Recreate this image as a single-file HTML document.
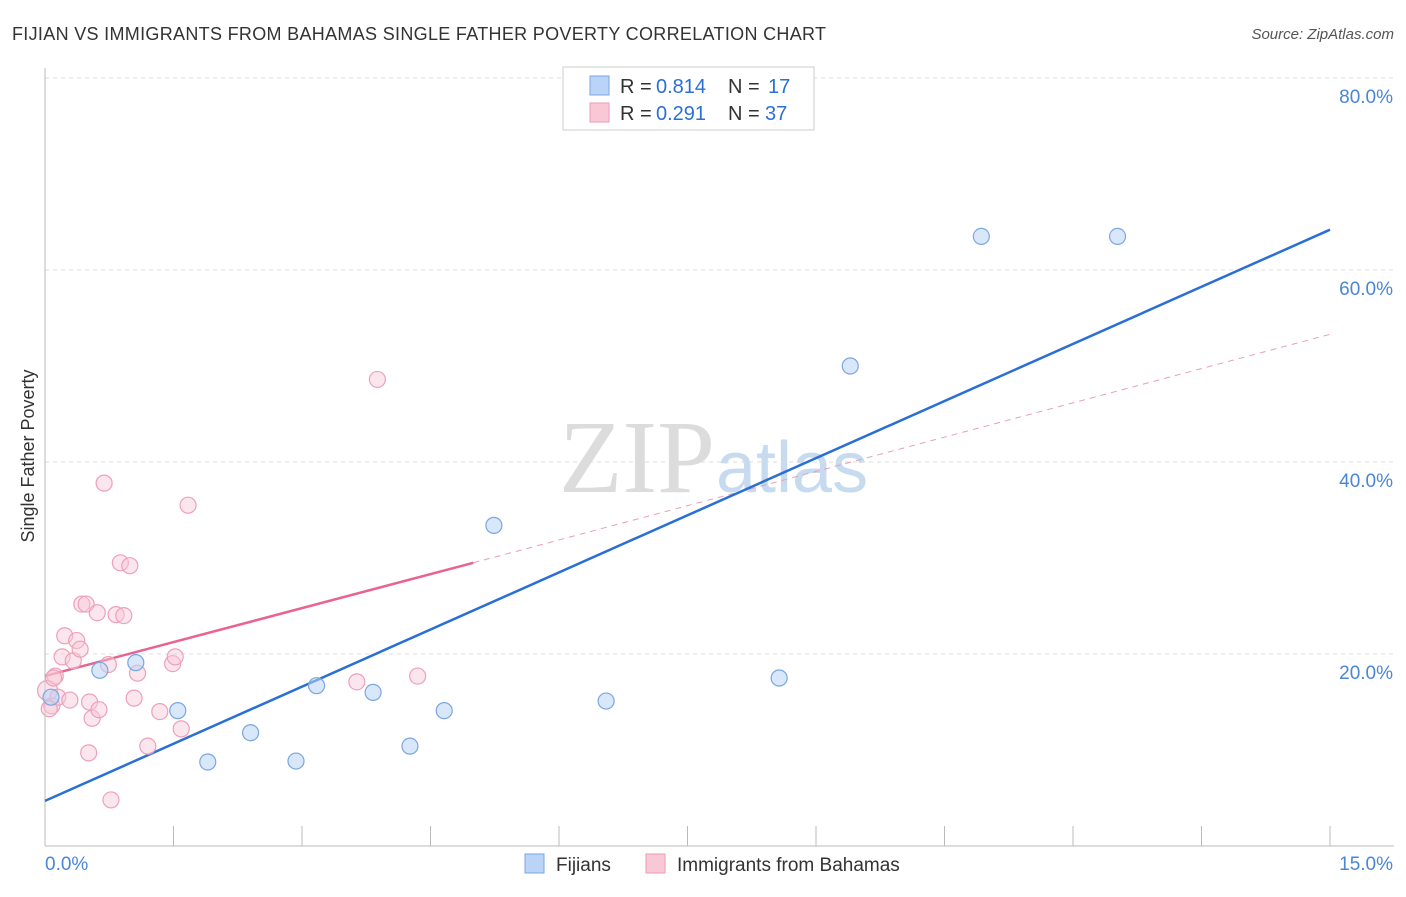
<!DOCTYPE html>
<html><head><meta charset="utf-8"><style>
body{margin:0;background:#fff;font-family:"Liberation Sans",sans-serif;}
svg text{font-family:"Liberation Sans",sans-serif;}
</style></head><body>
<svg id="chart" width="1406" height="892">
<text x="12" y="40" font-size="18" fill="#333" textLength="814" lengthAdjust="spacing">FIJIAN VS IMMIGRANTS FROM BAHAMAS SINGLE FATHER POVERTY CORRELATION CHART</text>
<text x="1394" y="39" font-size="15" fill="#555" font-style="italic" text-anchor="end">Source: ZipAtlas.com</text>
<text x="34" y="456" font-size="18" fill="#333" text-anchor="middle" transform="rotate(-90 34 456)">Single Father Poverty</text>
<text x="715" y="492" font-size="104" fill="#dcdcdc" text-anchor="end" style="font-family:'Liberation Serif',serif">ZIP</text>
<text x="716" y="492" font-size="72" fill="#c6daf0">atlas</text>
<g id="grid"></g><g id="axes"></g><g id="lines"></g><g id="pts"></g>
<g>
<rect x="563" y="67" width="251" height="63" fill="#fff" stroke="#ccc"/>
<rect x="590" y="76" width="19" height="19" fill="#b9d4f7" stroke="#7aa6e0"/>
<text x="620" y="93" font-size="20" fill="#333">R =</text>
<text x="656" y="93" font-size="20" fill="#2a6fd6">0.814</text>
<text x="728" y="93" font-size="20" fill="#333">N =</text>
<text x="768" y="93" font-size="20" fill="#2a6fd6">17</text>
<rect x="590" y="103" width="19" height="19" fill="#f9c8d6" stroke="#ee9ab3"/>
<text x="620" y="120" font-size="20" fill="#333">R =</text>
<text x="656" y="120" font-size="20" fill="#2a6fd6">0.291</text>
<text x="728" y="120" font-size="20" fill="#333">N =</text>
<text x="765" y="120" font-size="20" fill="#2a6fd6">37</text>
</g>
<g>
<rect x="525" y="854" width="19" height="19" fill="#b9d4f7" stroke="#7aa6e0"/>
<text x="556" y="871" font-size="19" fill="#333">Fijians</text>
<rect x="646" y="854" width="19" height="19" fill="#f9c8d6" stroke="#ee9ab3"/>
<text x="677" y="871" font-size="19" fill="#333">Immigrants from Bahamas</text>
</g>
</svg>
<script>
const yTicks=[20,40,60,80];
const yTickLabels=["20.0%","40.0%","60.0%","80.0%"];
const xTicks=[0,1.5,3,4.5,6,7.5,9,10.5,12,13.5,15];
const fijiX=[0.07,0.64,1.06,1.55,1.90,2.40,2.93,3.17,3.83,4.26,4.66,5.24,6.55,8.57,9.40,10.93,12.52];
const fijiY=[15.5,18.3,19.1,14.1,8.75,11.8,8.85,16.7,16.0,10.4,14.1,33.4,15.1,17.5,50.0,63.5,63.5];
const bahX=[0.03,0.08,0.12,0.15,0.2,0.23,0.29,0.33,0.37,0.41,0.43,0.48,0.52,0.55,0.61,0.63,0.69,0.74,0.77,0.83,0.88,0.92,0.99,1.04,1.08,1.20,1.34,1.49,1.52,1.59,1.67,0.51,3.64,3.88,4.35,0.05,0.1];
const bahY=[16.2,14.6,17.7,15.5,19.7,21.9,15.2,19.3,21.4,20.5,25.2,25.2,15.0,13.3,24.3,14.2,37.8,18.9,4.8,24.1,29.5,24.0,29.2,15.4,18.0,10.4,14.0,19.0,19.7,12.2,35.5,9.7,17.1,48.6,17.7,14.3,17.5];
const fijiLine=[[0,4.7],[15,64.2]];
const bahLine=[[0,17.7],[5.0,29.5]];
const bahDash=[[5.0,29.5],[15,53.3]];
const X=v=>45+v/15*1285, Y=v=>846-v*9.6;
const NS="http://www.w3.org/2000/svg";
function mk(p,t,a){const e=document.createElementNS(NS,t);for(const k in a)e.setAttribute(k,a[k]);document.getElementById(p).appendChild(e);return e;}
yTicks.forEach((t,i)=>{
 let l=mk('grid','line',{x1:45,x2:1394,y1:Y(t),y2:Y(t),stroke:'#ddd','stroke-dasharray':'4,4'});
 
 
 let tx=mk('grid','text',{x:1393,y:Y(t)+25,'font-size':19,fill:'#4a86d8','text-anchor':'end'});tx.textContent=yTickLabels[i];
 
 
});
mk('axes','line',{x1:45,x2:45,y1:68,y2:846,stroke:'#bbb'});
mk('axes','line',{x1:45,x2:1394,y1:846,y2:846,stroke:'#bbb'});
xTicks.forEach(t=>{let l=mk('axes','line',{x1:X(t),x2:X(t),y1:826,y2:846,stroke:'#bbb'});
 
 });
let a=mk('axes','text',{x:45,y:870,'font-size':19,fill:'#4a86d8'});a.textContent='0.0%';


let b=mk('axes','text',{x:1393,y:870,'font-size':19,fill:'#4a86d8','text-anchor':'end'});b.textContent='15.0%';


function ln(d,c,w,dash,name){let l=mk('lines','line',{x1:X(d[0][0]),y1:Y(d[0][1]),x2:X(d[1][0]),y2:Y(d[1][1]),stroke:c,'stroke-width':w});if(dash)l.setAttribute('stroke-dasharray',dash);
 
 }
ln(bahDash,'#e9a0b6',1,'6,5','bahamas-trend-extension');
ln(fijiLine,'#2a6fd6',2.5,null,'fijians-trend-line');
ln(bahLine,'#e8648e',2.5,null,'bahamas-trend-line');
bahX.forEach((x,i)=>{let c=mk('pts','circle',{cx:X(x),cy:Y(bahY[i]),r:i==0?10:8,fill:'rgba(249,200,214,0.45)',stroke:'#eea0b8','stroke-width':1.2});
 
 });
fijiX.forEach((x,i)=>{let c=mk('pts','circle',{cx:X(x),cy:Y(fijiY[i]),r:8,fill:'rgba(185,212,247,0.55)',stroke:'#7aa6e0','stroke-width':1.2});
 
 });
</script>
</body></html>
